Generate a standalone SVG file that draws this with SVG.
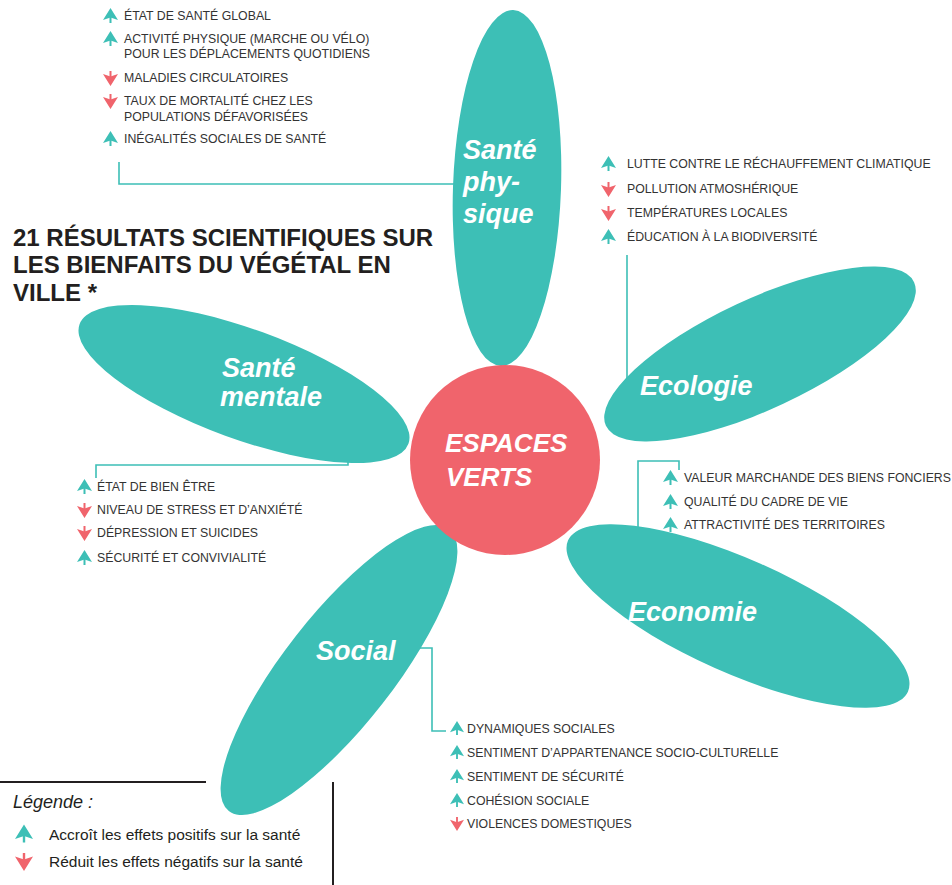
<svg xmlns="http://www.w3.org/2000/svg" xmlns:xlink="http://www.w3.org/1999/xlink" width="952" height="885" viewBox="0 0 952 885">
<style>
.petal{fill:#3DBFB6}
.hub{fill:#F0646C}
.plabel{font-family:"Liberation Sans",Arial,sans-serif;font-weight:bold;font-style:italic;font-size:27px;fill:#fff}
.hlabel{font-family:"Liberation Sans",Arial,sans-serif;font-weight:bold;font-style:italic;font-size:26px;fill:#fff}
.item{font-family:"Liberation Sans",Arial,sans-serif;font-size:12.3px;fill:#333}
.title{font-family:"Liberation Sans",Arial,sans-serif;font-weight:bold;font-size:24px;fill:#231F20}
.leg{font-family:"Liberation Sans",Arial,sans-serif;font-size:15.5px;fill:#231F20}
.legt{font-family:"Liberation Sans",Arial,sans-serif;font-style:italic;font-size:18px;fill:#231F20}
.conn{fill:none;stroke:#3DBFB6;stroke-width:1.6}
.rule{fill:none;stroke:#231F20;stroke-width:2}
</style>
<defs>
<symbol id="up" viewBox="0 0 15 15">
<path d="M7.5,0 L15,12 L7.5,9.5 L0,12 Z" fill="#3DBFB6"/>
<rect x="6.5" y="8" width="2" height="7" fill="#3DBFB6"/>
</symbol>
<symbol id="down" viewBox="0 0 15 15">
<path d="M7.5,15 L15,3 L7.5,5.5 L0,3 Z" fill="#F0646C"/>
<rect x="6.5" y="0" width="2" height="7" fill="#F0646C"/>
</symbol>
</defs>
<rect width="952" height="885" fill="#fff"/>

<g id="connectors">
<path class="conn" d="M119,162 V184 H460"/>
<path class="conn" d="M627,255 V385"/>
<path class="conn" d="M348,450 V465 H96 V478"/>
<path class="conn" d="M679,470 V461 H638 V545"/>
<path class="conn" d="M420,648 H432 V731 H446"/>
</g>

<g id="title">
<text class="title" x="13" y="246">21 RÉSULTATS SCIENTIFIQUES SUR</text>
<text class="title" x="13" y="273">LES BIENFAITS DU VÉGÉTAL EN</text>
<text class="title" x="13" y="301">VILLE *</text>
</g>

<g id="sante-physique">
<ellipse class="petal" cx="507" cy="188" rx="54" ry="178" transform="rotate(2 507 188)"/>
<text class="plabel" x="463" y="159">Santé</text>
<text class="plabel" x="463" y="191">phy-</text>
<text class="plabel" x="463" y="223">sique</text>
<use href="#up" x="103" y="8" width="15" height="15"/>
<text class="item" x="124" y="20">ÉTAT DE SANTÉ GLOBAL</text>
<use href="#up" x="103" y="31" width="15" height="15"/>
<text class="item" x="124" y="43">ACTIVITÉ PHYSIQUE (MARCHE OU VÉLO)</text>
<text class="item" x="124" y="58">POUR LES DÉPLACEMENTS QUOTIDIENS</text>
<use href="#down" x="103" y="71" width="15" height="15"/>
<text class="item" x="124" y="82">MALADIES CIRCULATOIRES</text>
<use href="#down" x="103" y="94" width="15" height="15"/>
<text class="item" x="124" y="105">TAUX DE MORTALITÉ CHEZ LES</text>
<text class="item" x="124" y="121">POPULATIONS DÉFAVORISÉES</text>
<use href="#up" x="103" y="131" width="15" height="15"/>
<text class="item" x="124" y="143">INÉGALITÉS SOCIALES DE SANTÉ</text>
</g>

<g id="ecologie">
<ellipse class="petal" cx="760" cy="354" rx="170" ry="55" transform="rotate(-25 760 354)"/>
<text class="plabel" x="640" y="395">Ecologie</text>
<use href="#up" x="601" y="156" width="15" height="15"/>
<text class="item" x="627" y="168">LUTTE CONTRE LE RÉCHAUFFEMENT CLIMATIQUE</text>
<use href="#down" x="601" y="182" width="15" height="15"/>
<text class="item" x="627" y="193">POLLUTION ATMOSHÉRIQUE</text>
<use href="#down" x="601" y="206" width="15" height="15"/>
<text class="item" x="627" y="217">TEMPÉRATURES LOCALES</text>
<use href="#up" x="601" y="229" width="15" height="15"/>
<text class="item" x="627" y="241">ÉDUCATION À LA BIODIVERSITÉ</text>
</g>

<g id="sante-mentale">
<ellipse class="petal" cx="244" cy="384" rx="175" ry="55" transform="rotate(20 244 384)"/>
<text class="plabel" x="222" y="377">Santé</text>
<text class="plabel" x="220" y="406">mentale</text>
<use href="#up" x="77" y="479" width="15" height="15"/>
<text class="item" x="97" y="491">ÉTAT DE BIEN ÊTRE</text>
<use href="#down" x="77" y="503" width="15" height="15"/>
<text class="item" x="97" y="514">NIVEAU DE STRESS ET D’ANXIÉTÉ</text>
<use href="#down" x="77" y="526" width="15" height="15"/>
<text class="item" x="97" y="537">DÉPRESSION ET SUICIDES</text>
<use href="#up" x="77" y="550" width="15" height="15"/>
<text class="item" x="97" y="562">SÉCURITÉ ET CONVIVIALITÉ</text>
</g>

<g id="economie">
<ellipse class="petal" cx="738" cy="616" rx="186" ry="57" transform="rotate(24 738 616)"/>
<text class="plabel" x="628" y="621">Economie</text>
<use href="#up" x="663" y="470" width="15" height="15"/>
<text class="item" x="684" y="482">VALEUR MARCHANDE DES BIENS FONCIERS</text>
<use href="#up" x="663" y="494" width="15" height="15"/>
<text class="item" x="684" y="506">QUALITÉ DU CADRE DE VIE</text>
<use href="#up" x="663" y="517" width="15" height="15"/>
<text class="item" x="684" y="529">ATTRACTIVITÉ DES TERRITOIRES</text>
</g>

<g id="social">
<ellipse class="petal" cx="339" cy="670" rx="179" ry="55" transform="rotate(-52 339 670)"/>
<text class="plabel" x="316" y="660">Social</text>
<use href="#up" x="450" y="721" width="14" height="14"/>
<text class="item" x="467" y="733">DYNAMIQUES SOCIALES</text>
<use href="#up" x="450" y="745" width="14" height="14"/>
<text class="item" x="467" y="757">SENTIMENT D’APPARTENANCE SOCIO-CULTURELLE</text>
<use href="#up" x="450" y="769" width="14" height="14"/>
<text class="item" x="467" y="781">SENTIMENT DE SÉCURITÉ</text>
<use href="#up" x="450" y="793" width="14" height="14"/>
<text class="item" x="467" y="805">COHÉSION SOCIALE</text>
<use href="#down" x="450" y="817" width="14" height="14"/>
<text class="item" x="467" y="828">VIOLENCES DOMESTIQUES</text>
</g>

<g id="espaces-verts">
<circle class="hub" cx="505" cy="460" r="95"/>
<text class="hlabel" x="445" y="452">ESPACES</text>
<text class="hlabel" x="446" y="486">VERTS</text>
</g>

<g id="legende">
<path class="rule" d="M0,782 H206"/>
<path class="rule" d="M333,782 V885"/>
<text class="legt" x="13" y="808">Légende :</text>
<use href="#up" x="15" y="823" width="18" height="21" preserveAspectRatio="none"/>
<text class="leg" x="49" y="840">Accroît les effets positifs sur la santé</text>
<use href="#down" x="15" y="852" width="18" height="20" preserveAspectRatio="none"/>
<text class="leg" x="49" y="867">Réduit les effets négatifs sur la santé</text>
</g>
</svg>
